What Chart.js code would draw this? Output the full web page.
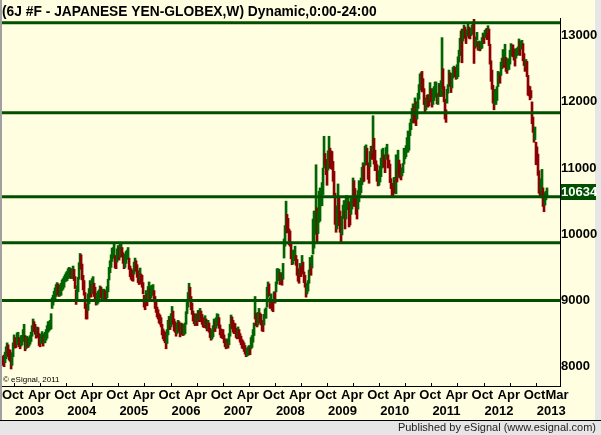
<!DOCTYPE html>
<html>
<head>
<meta charset="utf-8">
<script src="https://cdn.jsdelivr.net/npm/chart.js@4.4.0/dist/chart.umd.min.js"></script>
<style>
  html, body { margin: 0; padding: 0; }
  body { width: 601px; height: 435px; position: relative; overflow: hidden; background: #e6e6e6; font-family: "Liberation Sans", Arial, sans-serif; }
  #chart { position: absolute; left: 0; top: 0; }
  #copy { position: absolute; left: 3px; top: 375px; font-size: 8px; line-height: 10px; color: #000; }
  #footer { position: absolute; right: 5px; top: 421px; font-size: 11px; line-height: 13px; color: #222; }
</style>
</head>
<body>
<canvas id="chart" width="601" height="435"></canvas>
<div id="copy">© eSignal, 2011</div>
<div id="footer">Published by eSignal (www.esignal.com)</div>
<script>
// weekly bars, [low, high] (6J continuous, weekly)
const bars2002 = [[8050,8150],[8020,8160],[8000,8175],[8060,8220],[8120,8300],[8150,8360],[8170,8330],[8100,8260],[8080,8250],[7965,8210],[8020,8200],[8150,8360],[8300,8480]];
const bars2003 = [[8280,8440],[8290,8420],[8330,8510],[8400,8520],[8300,8440],[8270,8400],[8310,8470],[8330,8470],[8380,8560],[8440,8640],[8240,8470],[8270,8440],[8300,8460],[8290,8430],[8310,8440],[8340,8470],[8380,8520],[8460,8620],[8560,8720],[8530,8680],[8490,8640],[8430,8580],[8470,8600],[8440,8590],[8320,8500],[8300,8450],[8350,8490],[8390,8530],[8310,8470],[8360,8500],[8360,8520],[8400,8560],[8430,8620],[8520,8680],[8540,8680],[8560,8700],[8570,8800],[8880,9040],[8930,9080],[8980,9140],[9020,9190],[9060,9240],[9100,9270],[9080,9250],[9060,9230],[9070,9230],[9080,9260],[9150,9310],[9170,9330],[9200,9360],[9280,9390],[9290,9420]];
const bars2004 = [[9300,9440],[9330,9480],[9340,9500],[9350,9490],[9330,9470],[9330,9480],[9380,9520],[9300,9470],[9180,9360],[8940,9160],[9000,9220],[9130,9350],[9320,9570],[9520,9710],[9470,9690],[9310,9550],[9160,9380],[9080,9300],[8880,9120],[8720,8950],[8720,8900],[8850,9100],[8950,9180],[9080,9300],[9050,9250],[9100,9330],[9180,9360],[9060,9260],[9010,9200],[8930,9110],[8940,9110],[8960,9140],[9000,9160],[9060,9220],[9040,9200],[9000,9160],[9010,9170],[9020,9170],[9010,9150],[8990,9130],[9040,9210],[9130,9320],[9310,9500],[9420,9600],[9500,9690],[9590,9790],[9640,9800],[9640,9870],[9490,9680],[9480,9640],[9580,9780],[9660,9830]];
const bars2005 = [[9610,9800],[9650,9850],[9740,9880],[9660,9800],[9560,9720],[9480,9660],[9500,9700],[9560,9740],[9620,9760],[9640,9800],[9470,9640],[9360,9520],[9320,9480],[9300,9460],[9290,9450],[9400,9580],[9480,9640],[9440,9600],[9350,9540],[9270,9450],[9240,9400],[9310,9490],[9250,9400],[9200,9380],[9100,9270],[8900,9080],[8860,9020],[8970,9150],[8920,9090],[9020,9210],[9110,9280],[9010,9180],[9040,9220],[9080,9230],[9080,9240],[8980,9150],[8880,9060],[8820,8980],[8750,8900],[8720,8860],[8660,8800],[8640,8780],[8600,8740],[8480,8640],[8420,8570],[8390,8540],[8360,8520],[8270,8450],[8350,8560],[8480,8700],[8590,8760],[8560,8720]];
const bars2006 = [[8600,8800],[8700,8910],[8640,8840],[8540,8720],[8520,8680],[8460,8610],[8500,8660],[8540,8700],[8520,8680],[8450,8620],[8500,8660],[8480,8650],[8470,8630],[8480,8640],[8500,8660],[8640,8830],[8800,8970],[8900,9120],[9050,9260],[8980,9200],[8860,9060],[8790,8960],[8690,8840],[8650,8800],[8620,8780],[8640,8800],[8620,8790],[8680,8850],[8680,8840],[8710,8880],[8680,8840],[8640,8790],[8600,8740],[8590,8730],[8620,8770],[8580,8720],[8540,8690],[8560,8700],[8520,8660],[8440,8580],[8400,8520],[8420,8560],[8450,8620],[8570,8720],[8530,8680],[8580,8740],[8620,8800],[8640,8790],[8580,8740],[8480,8630],[8440,8570],[8430,8560]];
const bars2007 = [[8420,8560],[8360,8480],[8300,8420],[8270,8400],[8300,8420],[8280,8400],[8330,8500],[8460,8640],[8570,8780],[8580,8750],[8520,8700],[8500,8660],[8500,8650],[8440,8580],[8420,8560],[8450,8600],[8420,8560],[8370,8500],[8330,8460],[8280,8410],[8270,8390],[8230,8360],[8190,8320],[8150,8260],[8160,8280],[8170,8300],[8190,8320],[8180,8290],[8270,8440],[8290,8470],[8370,8560],[8470,8660],[8720,9060],[8620,8810],[8600,8760],[8630,8820],[8700,8880],[8660,8810],[8630,8790],[8540,8700],[8530,8680],[8630,8790],[8740,8870],[8730,8890],[8900,9200],[9050,9280],[9070,9250],[8880,9040],[8950,9100],[8850,9000],[8830,9000],[8970,9130]];
const bars2008 = [[8960,9130],[9130,9280],[9250,9480],[9300,9480],[9350,9470],[9240,9420],[9280,9420],[9230,9400],[9320,9560],[9640,9930],[9820,10130],[10050,10500],[10020,10300],[10040,10240],[9840,10080],[9820,10050],[9630,9880],[9540,9720],[9550,9760],[9600,9760],[9620,9820],[9530,9680],[9380,9620],[9290,9480],[9260,9420],[9380,9560],[9360,9520],[9520,9680],[9400,9580],[9270,9430],[9200,9380],[9050,9220],[9100,9260],[9140,9300],[9260,9460],[9400,9650],[9380,9550],[9490,9680],[9700,10230],[9790,10350],[10000,10350],[10340,11050],[9880,10400],[10010,10350],[10180,10650],[10200,10700],[10450,10620],[10430,10780],[10600,11000],[11000,11480],[11050,11220],[10900,11100]];
const bars2009 = [[10740,11130],[10970,11260],[11080,11480],[11000,11300],[10990,11260],[10980,11250],[10800,11100],[10570,10950],[10150,10620],[10030,10280],[10080,10430],[10330,10760],[10130,10560],[10030,10350],[9860,10160],[9990,10270],[10240,10440],[10240,10510],[10080,10350],[10230,10580],[10370,10580],[10410,10550],[10110,10490],[10140,10340],[10300,10540],[10380,10560],[10470,10850],[10420,10810],[10440,10690],[10300,10580],[10230,10590],[10380,10660],[10490,10810],[10590,10770],[10630,10850],[10750,11010],[10790,11080],[10800,11050],[11040,11330],[11080,11350],[11050,11300],[10830,11080],[10770,11060],[11020,11250],[11170,11330],[11130,11330],[11230,11790],[11060,11450],[10960,11270],[10980,11110],[10800,11050],[10730,10910]];
const bars2010 = [[10740,10960],[10790,11030],[10870,11150],[11000,11280],[11010,11300],[11020,11200],[10930,11130],[11130,11310],[11190,11360],[11000,11200],[11010,11120],[10780,11060],[10690,10840],[10560,10770],[10560,10740],[10710,10860],[10620,10810],[10610,11200],[10790,10970],[10860,11270],[10900,11120],[10850,11060],[10820,11000],[10880,11000],[10930,11070],[11060,11300],[11140,11260],[11170,11340],[11240,11460],[11240,11560],[11270,11540],[11490,11680],[11580,11740],[11680,11900],[11740,11970],[11680,11930],[11800,12060],[11640,12000],[11740,11970],[11900,12130],[12040,12260],[12180,12420],[12220,12440],[12150,12460],[12170,12350],[11960,12200],[11850,12060],[11880,12030],[11940,12100],[11920,12110],[11940,12080],[12020,12290]];
const bars2011 = [[12000,12200],[11920,12150],[11960,12200],[12020,12230],[12070,12300],[12120,12300],[11970,12120],[11960,12130],[12110,12280],[12080,12250],[12100,12320],[12080,12970],[12200,12500],[12000,12230],[11740,12040],[11690,11880],[11980,12190],[12130,12260],[12230,12480],[12250,12440],[12140,12320],[12210,12430],[12360,12520],[12390,12540],[12380,12520],[12340,12490],[12350,12560],[12380,12680],[12600,12780],[12720,12960],[12700,13070],[12590,13100],[12920,13080],[12990,13160],[12960,13130],[12880,13080],[12990,13090],[13000,13200],[12960,13130],[12950,13110],[13000,13110],[13020,13160],[13050,13200],[12580,13260],[12810,12980],[12830,12960],[12940,13050],[12780,12910],[12780,12920],[12770,12900],[12800,12910],[12810,12970]];
const bars2012 = [[12900,13040],[12880,13000],[12970,13080],[12990,13100],[12940,13110],[13040,13150],[12850,13100],[12570,12870],[12310,12620],[12190,12480],[11980,12250],[11880,12050],[11960,12190],[11960,12190],[12020,12230],[12230,12460],[12290,12450],[12280,12430],[12400,12600],[12500,12660],[12530,12790],[12520,12670],[12560,12870],[12460,12670],[12430,12630],[12480,12650],[12490,12650],[12570,12780],[12690,12880],[12720,12860],[12680,12860],[12630,12800],[12540,12690],[12660,12800],[12700,12810],[12710,12830],[12760,12950],[12700,12910],[12800,12920],[12800,12930],[12620,12880],[12550,12730],[12460,12560],[12520,12640],[12380,12610],[12100,12400],[12090,12240],[12030,12230],[12060,12170],[11670,12000],[11540,11770],[11390,11610]];
const bars2013 = [[11430,11620],[11050,11390],[11100,11320],[10890,11210],[10620,10960],[10580,10800],[10650,10840],[10550,10980],[10420,10700],[10340,10600],[10440,10630],[10520,10650],[10560,10700]];

const levels = [13196, 11837, 10568, 9873, 9000];
const priceTicks = [8000, 9000, 10000, 11000, 12000, 13000];
const monthTicks = [[2002,10,'Oct'],[2003,4,'Apr'],[2003,10,'Oct'],[2004,4,'Apr'],[2004,10,'Oct'],[2005,4,'Apr'],[2005,10,'Oct'],[2006,4,'Apr'],[2006,10,'Oct'],[2007,4,'Apr'],[2007,10,'Oct'],[2008,4,'Apr'],[2008,10,'Oct'],[2009,4,'Apr'],[2009,10,'Oct'],[2010,4,'Apr'],[2010,10,'Oct'],[2011,4,'Apr'],[2011,10,'Oct'],[2012,4,'Apr'],[2012,10,'Oct'],[2013,3,'Mar']];
const yearLabels = ['2003','2004','2005','2006','2007','2008','2009','2010','2011','2012','2013'];
const lastPrice = 10634;
const titleText = '(6J #F - JAPANESE YEN-GLOBEX,W) Dynamic,0:00-24:00';

const upColor = '#006400';
const downColor = '#8b0000';
const levelColor = '#005000';
const cream = '#fffee0';

const firstWeek = 2002.752;       // week of Sep 30, 2002
const weekStep = 7 / 365.25;
const xMin = 2002.75, xMax = 2013.446;
const yMin = 7708, yMax = 13252;

const weeks = [].concat(bars2002, bars2003, bars2004, bars2005, bars2006, bars2007,
  bars2008, bars2009, bars2010, bars2011, bars2012, bars2013);
const barData = weeks.map((r, i) => ({ x: firstWeek + i * weekStep, y: r }));
const barColors = weeks.map((r, i) => {
  if (i === 0) return upColor;
  const p = weeks[i - 1];
  return (r[0] + r[1]) >= (p[0] + p[1]) ? upColor : downColor;
});

const font13 = { family: 'Liberation Sans', size: 13, weight: 'bold' };

const frame = {
  id: 'frame',
  beforeDraw(chart) {
    const c = chart.ctx;
    c.save();
    c.fillStyle = '#e6e6e6';
    c.fillRect(0, 0, 601, 435);
    c.fillStyle = '#a0a0a0';
    c.fillRect(0, 0, 2, 420);
    c.fillStyle = cream;
    c.fillRect(2, 0, 593, 420);
    c.fillStyle = '#000';
    c.fillRect(0, 420, 601, 1);
    c.restore();
  },
  afterDraw(chart) {
    const c = chart.ctx;
    const xs = chart.scales.x;
    const bottom = chart.chartArea.bottom;
    c.save();
    // small half-year marks on the time axis (Jan / Jul)
    c.fillStyle = '#000';
    yearLabels.forEach(yr => {
      [0, 0.5].forEach(h => {
        const t = Number(yr) + h;
        if (t > xMin && t < xMax) {
          c.fillRect(Math.round(xs.getPixelForValue(t)) - 1, bottom - 3, 1, 3);
        }
      });
    });
    // last price box on the price axis
    const y = Math.round(chart.scales.y.getPixelForValue(lastPrice));
    c.fillStyle = levelColor;
    c.fillRect(561, y - 8, 35, 16);
    c.fillStyle = '#fff';
    c.font = 'bold 13px "Liberation Sans"';
    c.textBaseline = 'middle';
    c.fillText(String(lastPrice), 561, y + 0.5);
    c.restore();
  }
};

const levelSets = levels.map(v => ({
  type: 'line',
  data: [{ x: xMin, y: v }, { x: xMax, y: v }],
  borderColor: levelColor,
  borderWidth: 3,
  pointRadius: 0,
  order: 0
}));

const fitBottom = s => { s.height = 16; s.paddingLeft = 0; s.paddingRight = 0; };

new Chart(document.getElementById('chart'), {
  type: 'bar',
  data: {
    datasets: [
      ...levelSets,
      {
        type: 'bar',
        data: barData,
        backgroundColor: barColors,
        barThickness: 2,
        borderWidth: 0,
        order: 1
      }
    ]
  },
  options: {
    responsive: false,
    animation: false,
    events: [],
    layout: { padding: { left: 2, right: 0, top: 2.4, bottom: 17 } },
    plugins: {
      legend: { display: false },
      tooltip: { enabled: false },
      title: {
        display: true, text: titleText, align: 'start', color: '#000',
        font: { family: 'Liberation Sans', size: 13.8, weight: 'bold' },
        padding: { top: 1.25, bottom: -1.25 }
      }
    },
    scales: {
      x: {
        type: 'linear', position: 'bottom', weight: 0, min: xMin, max: xMax, offset: false,
        afterBuildTicks: s => { s.ticks = monthTicks.map(m => ({ value: m[0] + (m[1] - 1) / 12 })); },
        afterFit: fitBottom,
        ticks: {
          autoSkip: false, maxRotation: 0, minRotation: 0, align: 'start', padding: 2,
          font: font13, color: '#000',
          callback: (v, i) => monthTicks[i][2]
        },
        grid: { display: false, drawTicks: false },
        border: { display: true, color: '#000', width: 1 }
      },
      x2: {
        type: 'linear', position: 'bottom', weight: 1, min: xMin, max: xMax, offset: false,
        afterBuildTicks: s => { s.ticks = yearLabels.map(y => ({ value: Number(y) })); },
        afterFit: fitBottom,
        ticks: {
          autoSkip: false, maxRotation: 0, minRotation: 0, align: 'start', padding: 2,
          font: font13, color: '#000',
          callback: (v, i) => yearLabels[i]
        },
        grid: { display: false, drawTicks: false },
        border: { display: false }
      },
      y: {
        type: 'linear', position: 'right', min: yMin, max: yMax,
        afterBuildTicks: s => { s.ticks = priceTicks.map(v => ({ value: v })); },
        afterFit: s => { s.width = 41; s.paddingTop = 0; s.paddingBottom = 0; },
        ticks: { padding: 1, font: font13, color: '#000', callback: v => String(v) },
        grid: { display: false, drawTicks: false },
        border: { display: true, color: '#000', width: 1 }
      }
    }
  },
  plugins: [frame]
});
</script>
</body>
</html>
